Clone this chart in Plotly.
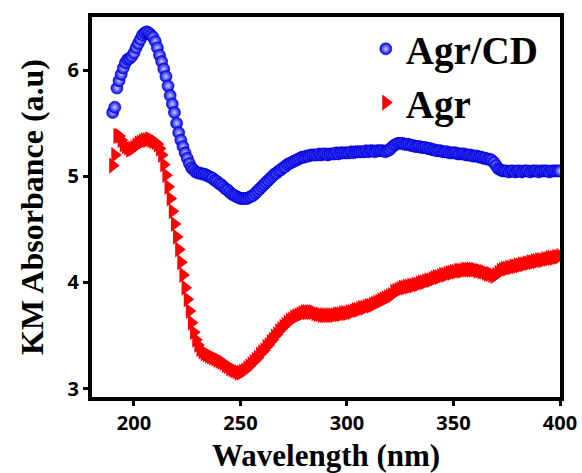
import plotly.graph_objects as go

wavelength = list(range(190, 401))

agr_cd = [
    5.60, 5.65, 5.83, 5.90, 5.96, 6.02, 6.07, 6.10, 6.11, 6.13,
    6.16, 6.21, 6.25, 6.29, 6.33, 6.35, 6.36, 6.35, 6.33, 6.31,
    6.27, 6.21, 6.14, 6.08, 6.01, 5.94, 5.85, 5.76, 5.68, 5.60,
    5.50, 5.41, 5.34, 5.28, 5.22, 5.17, 5.12, 5.08, 5.06, 5.04,
    5.03, 5.03, 5.02, 5.02, 5.01, 5.00, 4.99, 4.98, 4.96, 4.95,
    4.93, 4.92, 4.90, 4.88, 4.87, 4.85, 4.83, 4.82, 4.81, 4.80,
    4.79, 4.79, 4.79, 4.79, 4.80, 4.81, 4.82, 4.84, 4.86, 4.88,
    4.90, 4.92, 4.94, 4.96, 4.98, 5.00, 5.02, 5.03, 5.05, 5.06,
    5.08, 5.09, 5.11, 5.12, 5.13, 5.14, 5.15, 5.16, 5.17, 5.18,
    5.18, 5.19, 5.19, 5.20, 5.20, 5.20, 5.20, 5.21, 5.20, 5.21,
    5.21, 5.20, 5.21, 5.21, 5.21, 5.22, 5.21, 5.22, 5.22, 5.22,
    5.22, 5.22, 5.23, 5.22, 5.23, 5.23, 5.23, 5.23, 5.23, 5.24,
    5.23, 5.24, 5.24, 5.23, 5.24, 5.24, 5.24, 5.24, 5.23, 5.24,
    5.25, 5.27, 5.29, 5.30, 5.31, 5.31, 5.31, 5.30, 5.30, 5.30,
    5.29, 5.29, 5.28, 5.28, 5.28, 5.27, 5.27, 5.27, 5.26, 5.26,
    5.25, 5.25, 5.24, 5.24, 5.24, 5.23, 5.23, 5.23, 5.22, 5.22,
    5.22, 5.22, 5.21, 5.21, 5.21, 5.21, 5.20, 5.20, 5.20, 5.19,
    5.19, 5.19, 5.18, 5.18, 5.17, 5.17, 5.16, 5.16, 5.15, 5.13,
    5.10, 5.07, 5.06, 5.05, 5.05, 5.05, 5.04, 5.05, 5.05, 5.04,
    5.05, 5.05, 5.04, 5.05, 5.05, 5.05, 5.04, 5.05, 5.05, 5.05,
    5.04, 5.05, 5.05, 5.05, 5.05, 5.04, 5.05, 5.05, 5.05, 5.05,
    5.05,
]

agr = [
    5.10, 5.20, 5.38, 5.38, 5.34, 5.30, 5.28, 5.27, 5.25, 5.26,
    5.27, 5.29, 5.31, 5.32, 5.33, 5.34, 5.34, 5.35, 5.34, 5.33,
    5.32, 5.30, 5.26, 5.20, 5.11, 5.01, 4.90, 4.79, 4.67, 4.55,
    4.43, 4.31, 4.19, 4.07, 3.95, 3.84, 3.73, 3.62, 3.53, 3.46,
    3.41, 3.37, 3.35, 3.33, 3.32, 3.31, 3.30, 3.29, 3.28, 3.27,
    3.26, 3.25, 3.24, 3.22, 3.21, 3.19, 3.18, 3.17, 3.16, 3.15,
    3.15, 3.16, 3.17, 3.19, 3.21, 3.23, 3.25, 3.27, 3.29, 3.32,
    3.34, 3.36, 3.39, 3.41, 3.44, 3.46, 3.49, 3.51, 3.54, 3.56,
    3.58, 3.60, 3.62, 3.64, 3.65, 3.67, 3.68, 3.69, 3.70, 3.71,
    3.72, 3.72, 3.72, 3.72, 3.72, 3.71, 3.70, 3.70, 3.69, 3.69,
    3.69, 3.69, 3.69, 3.69, 3.69, 3.70, 3.70, 3.70, 3.71, 3.71,
    3.71, 3.72, 3.72, 3.73, 3.74, 3.74, 3.75, 3.76, 3.76, 3.77,
    3.78, 3.78, 3.79, 3.80, 3.81, 3.82, 3.83, 3.84, 3.85, 3.86,
    3.87, 3.88, 3.91, 3.92, 3.93, 3.94, 3.95, 3.95, 3.96, 3.96,
    3.97, 3.97, 3.98, 3.98, 3.99, 4.00, 4.00, 4.01, 4.02, 4.02,
    4.03, 4.04, 4.05, 4.05, 4.06, 4.07, 4.07, 4.08, 4.09, 4.09,
    4.10, 4.10, 4.11, 4.11, 4.11, 4.12, 4.12, 4.12, 4.12, 4.12,
    4.12, 4.11, 4.11, 4.10, 4.10, 4.09, 4.08, 4.08, 4.07, 4.06,
    4.07, 4.09, 4.11, 4.12, 4.13, 4.13, 4.14, 4.14, 4.15, 4.15,
    4.16, 4.16, 4.17, 4.17, 4.18, 4.18, 4.19, 4.19, 4.20, 4.20,
    4.21, 4.21, 4.21, 4.22, 4.22, 4.23, 4.23, 4.23, 4.24, 4.24,
    4.25,
]

series_names = ["Agr/CD", "Agr"]
x_ticks = [200, 250, 300, 350, 400]
y_ticks = [3, 4, 5, 6]

fig = go.Figure()
fig.add_trace(go.Scatter(
    x=wavelength, y=agr_cd, mode="markers", name=series_names[0],
    marker=dict(symbol="circle", size=12, color="#0000ee",
                gradient=dict(type="radial", color="#c8ccff"),
                line=dict(color="#0000cc", width=0.6)),
))
fig.add_trace(go.Scatter(
    x=wavelength, y=agr, mode="markers", name=series_names[1],
    marker=dict(symbol="triangle-right", size=14, color="#ff0000",
                line=dict(width=0)),
))

axis_common = dict(
    showline=True, linecolor="black", linewidth=4, mirror=True,
    ticks="outside", ticklen=5, tickwidth=3, tickcolor="black",
    showgrid=False, zeroline=False, automargin=False,
    tickfont=dict(family="Open Sans", size=20, color="black", weight="bold"),
)

fig.update_layout(
    width=582, height=473,
    margin=dict(l=92, r=22, t=17, b=76),
    paper_bgcolor="white", plot_bgcolor="white",
    xaxis=dict(range=[180.3, 400], tickvals=x_ticks, **axis_common),
    yaxis=dict(range=[2.92, 6.5], tickvals=y_ticks, **axis_common,
               title=dict(text="KM Absorbance (a.u)",
                          font=dict(family="Liberation Serif", size=32,
                                    color="black", weight="bold"))),
    legend=dict(x=0.585, y=1.0, xanchor="left", yanchor="top",
                bgcolor="rgba(0,0,0,0)",
                font=dict(family="Liberation Serif", size=39,
                          color="black", weight="bold")),
    annotations=[dict(
        text="Wavelength (nm)", xref="paper", yref="paper",
        x=0.5, y=-0.155, xanchor="center", yanchor="middle",
        showarrow=False,
        font=dict(family="Liberation Serif", size=31,
                  color="black", weight="bold"),
    )],
)

fig.write_html("out.html")
